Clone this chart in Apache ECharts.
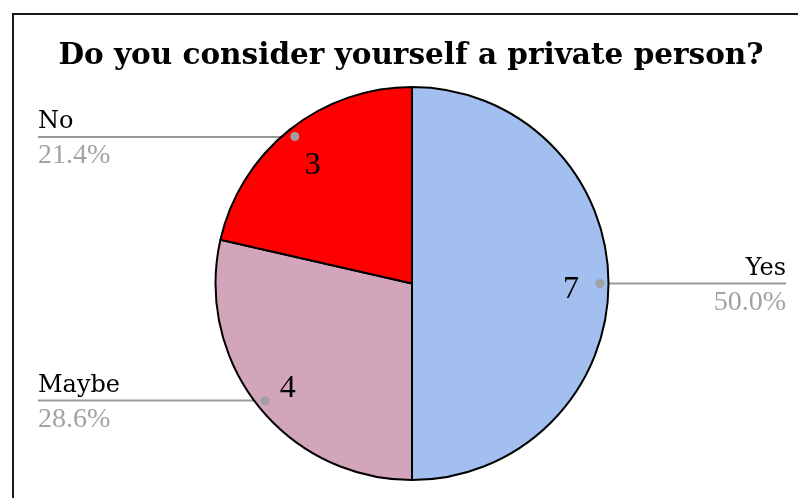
<!DOCTYPE html>
<html>
<head>
<meta charset="utf-8">
<script src="https://cdn.jsdelivr.net/npm/echarts@6/dist/echarts.min.js"></script>
<style>
  html, body { margin: 0; padding: 0; background: #fff; overflow: hidden; }
  #frame {
    position: absolute;
    left: 12px;
    top: 13px;
    width: 1000px;
    height: 1000px;
    border: 2px solid #1a1a1a;
  }
  #chart {
    position: absolute;
    left: 0;
    top: 0;
    width: 798px;
    height: 498px;
  }
</style>
</head>
<body>
<div id="frame"></div>
<div id="chart"></div>
<script>
// data
const answers = ['Yes', 'Maybe', 'No']
const counts = [7, 4, 3]
const sliceColors = ['#a2bff0', '#d3a5ba', '#ff0000']

const titleText = 'Do you consider yourself a private person?'
const serif = 'Liberation Serif'
const wideSerif = 'DejaVu Serif'

// pie placement
const CX = 412
const CY = 283.5
const BOX_LEFT = 38
const BOX_RIGHT = 12

const pieData = answers.map((name, i) => ({
  name: name,
  value: counts[i],
  itemStyle: { color: sliceColors[i] }
}))

const chart = echarts.init(document.getElementById('chart'), null, { renderer: 'canvas' })

const common = {
  type: 'pie',
  left: BOX_LEFT,
  right: BOX_RIGHT,
  top: 0,
  bottom: 0,
  center: [CX - BOX_LEFT, CY],
  startAngle: 90,
  clockwise: true,
  silent: true,
  animation: false,
  emphasis: { disabled: true }
}

const clearData = () => pieData.map(d => ({ name: d.name, value: d.value, itemStyle: { color: 'transparent' } }))

// extend the leader line under the label up to its outer edge
const leaderLayout = params => {
  const pts = params.labelLinePoints
  if (!pts) return {}
  const r = params.labelRect
  const onLeft = pts[0][0] < CX
  const endX = onLeft ? r.x : r.x + r.width
  return {
    labelLinePoints: [pts[0], [endX, pts[0][1]]]
  }
}

const option = {
  animation: false,
  title: {
    text: titleText,
    left: 406,
    top: 36,
    textAlign: 'center',
    textStyle: {
      fontFamily: wideSerif,
      fontWeight: 'bold',
      fontSize: 29.5,
      color: '#000'
    }
  },
  series: [
    // slices
    Object.assign({}, common, {
      radius: [0, 196.5],
      data: pieData,
      itemStyle: { borderColor: '#000', borderWidth: 2 },
      label: { show: false },
      labelLine: { show: false }
    }),
    // counts inside the slices (empty spacer row nudges the digit down)
    Object.assign({}, common, {
      radius: [116, 196],
      data: clearData(),
      label: {
        show: true,
        position: 'inside',
        formatter: '{s| }\n{v|{c}}',
        rich: {
          s: { fontSize: 8, lineHeight: 12 },
          v: { fontFamily: serif, fontSize: 32, color: '#000', lineHeight: 32 }
        }
      },
      labelLine: { show: false }
    }),
    // names + percentages with leader lines
    Object.assign({}, common, {
      radius: [0, 187.5],
      data: clearData(),
      label: {
        show: true,
        position: 'outside',
        alignTo: 'edge',
        edgeDistance: 0,
        distanceToLabelLine: 0,
        formatter: p => '{n|' + p.name + '}\n{p|' + p.percent.toFixed(1) + '%}',
        rich: {
          n: { fontFamily: wideSerif, fontSize: 24, color: '#000', lineHeight: 38 },
          p: { fontFamily: serif, fontSize: 28, color: '#a3a3a3', lineHeight: 30 }
        }
      },
      labelLine: {
        show: true,
        length: 0,
        length2: 20,
        smooth: false,
        lineStyle: { color: '#999', width: 2 }
      },
      labelLayout: leaderLayout
    }),
    // dots at the start of the leader lines
    Object.assign({}, common, {
      radius: [180, 190],
      data: clearData(),
      label: {
        show: true,
        position: 'inside',
        formatter: '{d| }',
        rich: {
          d: { width: 9, height: 9, borderRadius: 4.5, backgroundColor: '#a0a0a0' }
        }
      },
      labelLine: { show: false }
    })
  ]
}

chart.setOption(option)
</script>
</body>
</html>
